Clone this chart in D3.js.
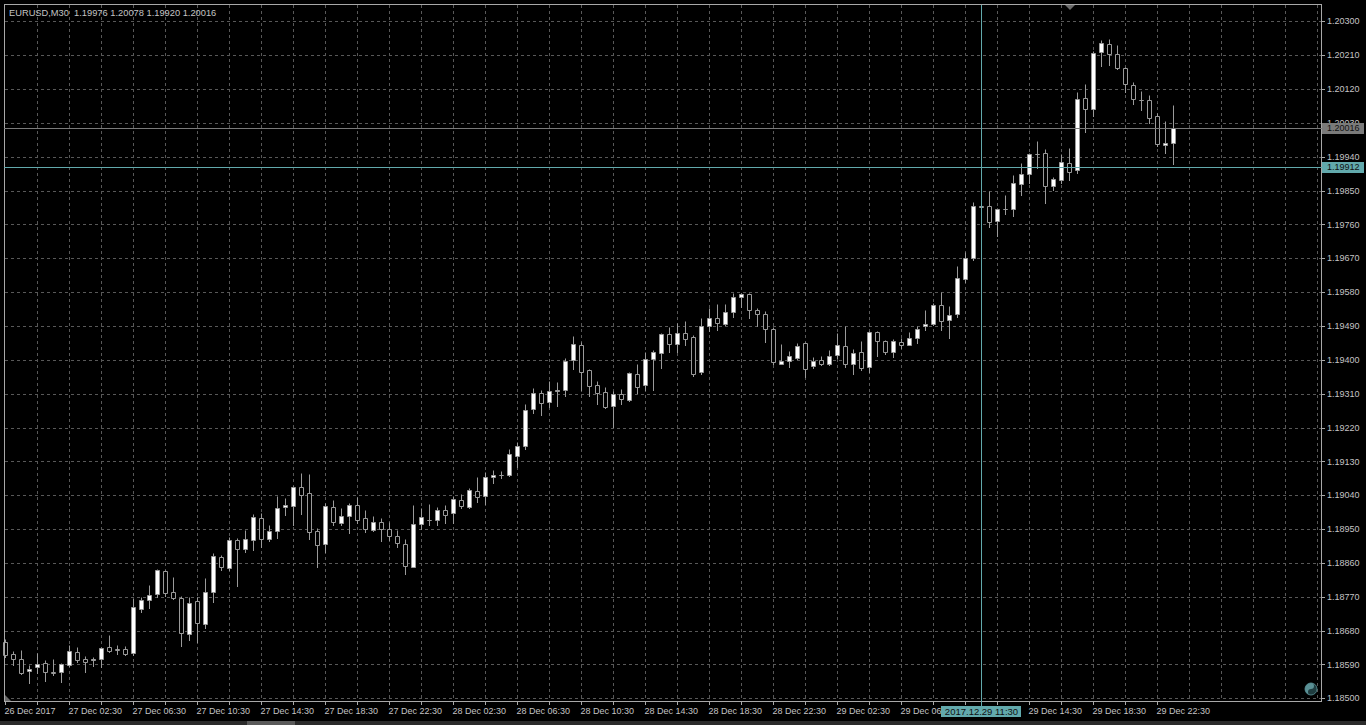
<!DOCTYPE html>
<html><head><meta charset="utf-8">
<script src="https://cdn.jsdelivr.net/npm/d3@7"></script>
<style>html,body{margin:0;padding:0;background:#000;overflow:hidden}svg{display:block}</style>
</head><body>
<svg id="c" width="1366" height="725"></svg>
<script>
const symbolLabel = "EURUSD,M30";
const titleValues = [1.19976, 1.20078, 1.19920, 1.20016];

const open = [1.18650,1.18617,1.18604,1.18572,1.18582,1.18593,1.18571,1.18569,1.18588,1.18622,
1.18604,1.18602,1.18604,1.18636,1.18630,1.18631,1.18620,1.18738,1.18761,1.18776,
1.18838,1.18782,1.18767,1.18670,1.18758,1.18697,1.18783,1.18876,1.18846,1.18921,
1.18898,1.18920,1.18979,1.18924,1.18944,1.19008,1.19010,1.19062,1.19045,1.18944,
1.18910,1.19008,1.18967,1.18985,1.19014,1.18979,1.18948,1.18969,1.18950,1.18931,
1.18911,1.18850,1.18963,1.18974,1.18975,1.19000,1.18992,1.19027,1.19009,1.19051,
1.19037,1.19088,1.19093,1.19094,1.19145,1.19172,1.19268,1.19311,1.19287,1.19318,
1.19319,1.19399,1.19439,1.19372,1.19334,1.19314,1.19278,1.19308,1.19293,1.19362,
1.19332,1.19403,1.19417,1.19469,1.19443,1.19470,1.19461,1.19367,1.19489,1.19510,
1.19496,1.19526,1.19566,1.19574,1.19532,1.19521,1.19483,1.19390,1.19396,1.19406,
1.19444,1.19384,1.19399,1.19390,1.19412,1.19436,1.19390,1.19422,1.19382,1.19474,
1.19451,1.19422,1.19447,1.19440,1.19457,1.19489,1.19496,1.19545,1.19507,1.19522,
1.19614,1.19670,1.19808,1.19808,1.19768,1.19801,1.19802,1.19867,1.19893,1.19947,
1.19949,1.19862,1.19877,1.19922,1.19905,1.20095,1.20066,1.20218,1.20239,1.20212,
1.20177,1.20131,1.20092,1.20090,1.20047,1.19972,1.19976];
const high = [1.18658,1.18627,1.18628,1.18589,1.18620,1.18602,1.18604,1.18593,1.18642,1.18636,
1.18612,1.18609,1.18636,1.18668,1.18641,1.18639,1.18766,1.18769,1.18801,1.18844,
1.18841,1.18823,1.18772,1.18770,1.18770,1.18819,1.18886,1.18881,1.18929,1.18926,
1.18947,1.18989,1.18992,1.18960,1.19038,1.19032,1.19064,1.19098,1.19096,1.18952,
1.19018,1.19027,1.19005,1.19018,1.19034,1.19001,1.18985,1.18979,1.18970,1.18947,
1.18923,1.19014,1.19005,1.19017,1.19009,1.19014,1.19039,1.19043,1.19058,1.19088,
1.19101,1.19107,1.19105,1.19163,1.19181,1.19282,1.19324,1.19320,1.19344,1.19342,
1.19404,1.19463,1.19448,1.19376,1.19344,1.19328,1.19316,1.19322,1.19368,1.19390,
1.19422,1.19425,1.19472,1.19488,1.19499,1.19503,1.19466,1.19512,1.19537,1.19548,
1.19548,1.19577,1.19577,1.19578,1.19537,1.19531,1.19486,1.19442,1.19424,1.19444,
1.19448,1.19407,1.19410,1.19426,1.19470,1.19491,1.19429,1.19450,1.19477,1.19477,
1.19453,1.19455,1.19457,1.19475,1.19491,1.19532,1.19550,1.19580,1.19543,1.19649,
1.19687,1.19820,1.19817,1.19849,1.19804,1.19838,1.19891,1.19924,1.19951,1.19982,
1.19960,1.19887,1.19947,1.19964,1.20113,1.20133,1.20222,1.20250,1.20253,1.20237,
1.20178,1.20138,1.20115,1.20104,1.20055,1.20035,1.20078];
const low = [1.18611,1.18589,1.18565,1.18541,1.18566,1.18547,1.18562,1.18544,1.18586,1.18597,
1.18571,1.18586,1.18584,1.18624,1.18618,1.18615,1.18616,1.18730,1.18741,1.18770,
1.18772,1.18765,1.18639,1.18655,1.18649,1.18686,1.18757,1.18841,1.18841,1.18799,
1.18890,1.18894,1.18903,1.18918,1.18926,1.18987,1.18961,1.18990,1.18924,1.18850,
1.18890,1.18961,1.18961,1.18940,1.18965,1.18943,1.18946,1.18918,1.18921,1.18903,
1.18830,1.18848,1.18950,1.18961,1.18961,1.18967,1.18966,1.19007,1.19005,1.19023,
1.19016,1.19073,1.19085,1.19091,1.19116,1.19162,1.19259,1.19253,1.19275,1.19277,
1.19305,1.19375,1.19320,1.19305,1.19282,1.19273,1.19222,1.19282,1.19290,1.19311,
1.19320,1.19320,1.19379,1.19420,1.19422,1.19439,1.19358,1.19363,1.19477,1.19479,
1.19492,1.19515,1.19540,1.19512,1.19491,1.19448,1.19390,1.19389,1.19380,1.19401,
1.19355,1.19377,1.19386,1.19386,1.19406,1.19380,1.19362,1.19373,1.19368,1.19410,
1.19415,1.19407,1.19431,1.19439,1.19444,1.19479,1.19493,1.19479,1.19457,1.19513,
1.19608,1.19665,1.19801,1.19754,1.19729,1.19787,1.19782,1.19838,1.19869,1.19909,
1.19818,1.19851,1.19869,1.19878,1.19896,1.20006,1.20048,1.20181,1.20185,1.20174,
1.20113,1.20080,1.20064,1.20030,1.19969,1.19951,1.19920];
const close = [1.18615,1.18605,1.18566,1.18577,1.18590,1.18569,1.18566,1.18590,1.18625,1.18603,
1.18597,1.18604,1.18633,1.18627,1.18628,1.18619,1.18742,1.18761,1.18774,1.18840,
1.18781,1.18767,1.18673,1.18753,1.18699,1.18782,1.18878,1.18848,1.18921,1.18897,
1.18923,1.18981,1.18923,1.18945,1.19005,1.19013,1.19062,1.19041,1.18943,1.18907,
1.19010,1.18969,1.18985,1.19014,1.18974,1.18951,1.18969,1.18951,1.18931,1.18912,
1.18852,1.18963,1.18983,1.18975,1.19000,1.18987,1.19029,1.19011,1.19053,1.19034,
1.19088,1.19093,1.19093,1.19149,1.19171,1.19266,1.19311,1.19286,1.19316,1.19319,
1.19397,1.19441,1.19368,1.19331,1.19313,1.19274,1.19310,1.19295,1.19364,1.19328,
1.19401,1.19420,1.19469,1.19441,1.19470,1.19456,1.19363,1.19489,1.19510,1.19497,
1.19526,1.19566,1.19574,1.19532,1.19521,1.19482,1.19394,1.19397,1.19411,1.19436,
1.19375,1.19397,1.19390,1.19409,1.19439,1.19390,1.19419,1.19377,1.19473,1.19451,
1.19422,1.19449,1.19439,1.19457,1.19483,1.19494,1.19545,1.19504,1.19518,1.19617,
1.19670,1.19808,1.19806,1.19767,1.19800,1.19802,1.19869,1.19893,1.19947,1.19947,
1.19863,1.19880,1.19925,1.19900,1.20093,1.20066,1.20215,1.20241,1.20212,1.20177,
1.20132,1.20094,1.20091,1.20044,1.19974,1.19977,1.20016];

// one label every 8 bars (4 hours), starting at the first bar
const timeLabels = ["26 Dec 2017","27 Dec 02:30","27 Dec 06:30","27 Dec 10:30","27 Dec 14:30",
"27 Dec 18:30","27 Dec 22:30","28 Dec 02:30","28 Dec 06:30","28 Dec 10:30","28 Dec 14:30",
"28 Dec 18:30","28 Dec 22:30","29 Dec 02:30","29 Dec 06:30","29 Dec 10:30","29 Dec 14:30",
"29 Dec 18:30","29 Dec 22:30"];
const priceTicks = [1.18500,1.18590,1.18680,1.18770,1.18860,1.18950,1.19040,1.19130,1.19220,
1.19310,1.19400,1.19490,1.19580,1.19670,1.19760,1.19850,1.19940,1.20030,1.20120,1.20210,1.20300];
const bidPrice = 1.20016;
const crossPrice = 1.19912;
const crossBar = 122;
const crossLabel = "2017.12.29 11:30";
const visibleBars = 165;

const W = 1366, H = 725;
const frame = {l: 4, t: 4, r: 1321, b: 701};
const svg = d3.select("#c");
const FONT = "'Liberation Sans', Arial, sans-serif";
const TXT = "#c4c4c4";
const GRID = "#585858";
const CAND = "#9a9a9a";
const TEAL = "#62a9ac";

const x = d3.scaleLinear().domain([0, visibleBars - 1]).range([5.5, 5.5 + 8 * (visibleBars - 1)]);
const y = d3.scaleLinear().domain([1.185, 1.203]).range([698.3, 21.3]);
const sy = v => Math.round(y(v)) + 0.5;

svg.append("rect").attr("width", W).attr("height", H).attr("fill", "#000");

// grid
const g = svg.append("g");
g.selectAll("line.h").data(priceTicks).join("line")
  .attr("x1", frame.l + 1).attr("x2", frame.r)
  .attr("y1", sy).attr("y2", sy)
  .attr("stroke", GRID).attr("stroke-dasharray", "3,3");
const vIdx = d3.range(4, visibleBars, 4);
g.selectAll("line.v").data(vIdx).join("line")
  .attr("x1", d => x(d)).attr("x2", d => x(d))
  .attr("y1", frame.t + 1).attr("y2", frame.b)
  .attr("stroke", GRID).attr("stroke-dasharray", "3,3");

// candles
const bars = open.map((o, i) => ({i, o, h: high[i], l: low[i], c: close[i]}));
const cg = svg.append("g");
cg.selectAll("line.w").data(bars).join("line")
  .attr("x1", d => x(d.i)).attr("x2", d => x(d.i))
  .attr("y1", d => sy(d.h)).attr("y2", d => sy(d.l) + 0.5)
  .attr("stroke", CAND);
cg.selectAll("path.b").data(bars).join("path")
  .attr("d", d => {
    const top = sy(Math.max(d.o, d.c)), bot = sy(Math.min(d.o, d.c));
    const x0 = x(d.i) - 2;
    return `M${x0},${top}H${x0 + 4}V${bot}H${x0}Z`;
  })
  .attr("fill", d => d.c >= d.o ? "#ffffff" : "#000000")
  .attr("stroke", CAND);

// frame
svg.append("rect").attr("x", frame.l + 0.5).attr("y", frame.t + 0.5)
  .attr("width", frame.r - frame.l).attr("height", frame.b - frame.t)
  .attr("fill", "none").attr("stroke", "#a8a8a8");

// price axis
const pa = svg.append("g");
pa.selectAll("line").data(priceTicks).join("line")
  .attr("x1", frame.r + 1).attr("x2", frame.r + 4).attr("y1", sy).attr("y2", sy)
  .attr("stroke", "#a8a8a8");
pa.selectAll("text").data(priceTicks).join("text")
  .attr("x", 1327).attr("y", d => y(d)).attr("dy", "0.35em")
  .attr("fill", TXT).attr("font-family", FONT).attr("font-size", 9)
  .text(d3.format(".5f"));

// time axis
const ta = svg.append("g");
const tickIdx = d3.range(0, open.length, 4);
ta.selectAll("line").data(tickIdx).join("line")
  .attr("x1", d => x(d)).attr("x2", d => x(d)).attr("y1", frame.b + 1).attr("y2", frame.b + 4)
  .attr("stroke", "#a8a8a8");
ta.selectAll("text").data(timeLabels).join("text")
  .attr("x", (d, k) => x(k * 8) - 1).attr("y", 714)
  .attr("fill", TXT).attr("font-family", FONT).attr("font-size", 9)
  .text(d => d);

// bid line
svg.append("line").attr("x1", frame.l).attr("x2", frame.r + 1)
  .attr("y1", sy(bidPrice)).attr("y2", sy(bidPrice)).attr("stroke", "#7a7a7a");
svg.append("rect").attr("x", frame.r + 1).attr("y", sy(bidPrice) - 5.5).attr("width", 42).attr("height", 11)
  .attr("fill", "#7a7a7a");
svg.append("text").attr("x", 1327).attr("y", y(bidPrice)).attr("dy", "0.35em")
  .attr("fill", "#101010").attr("font-family", FONT).attr("font-size", 9)
  .text(d3.format(".5f")(bidPrice));

// crosshair
const cx = x(crossBar);
svg.append("line").attr("x1", cx).attr("x2", cx).attr("y1", frame.t + 1).attr("y2", frame.b + 5)
  .attr("stroke", TEAL);
svg.append("line").attr("x1", frame.l).attr("x2", frame.r + 1)
  .attr("y1", sy(crossPrice)).attr("y2", sy(crossPrice)).attr("stroke", TEAL);
svg.append("rect").attr("x", frame.r + 1).attr("y", sy(crossPrice) - 5.5).attr("width", 42).attr("height", 11)
  .attr("fill", TEAL);
svg.append("text").attr("x", 1327).attr("y", y(crossPrice)).attr("dy", "0.35em")
  .attr("fill", "#101010").attr("font-family", FONT).attr("font-size", 9)
  .text(d3.format(".5f")(crossPrice));
svg.append("rect").attr("x", cx - 40.5).attr("y", 706).attr("width", 80).attr("height", 11)
  .attr("fill", TEAL);
svg.append("text").attr("x", cx).attr("y", 714.5).attr("text-anchor", "middle")
  .attr("fill", "#101010").attr("font-family", FONT).attr("font-size", 9.5)
  .text(crossLabel);

// markers
svg.append("path").attr("d", "M1065,5L1075,5L1070,10Z").attr("fill", "#6a6a6a");
svg.append("path").attr("d", "M5,695L5,701L11,701Z").attr("fill", "#6a6a6a");
// small icon
const ic = svg.append("g").attr("transform", "translate(1311,689)");
ic.append("circle").attr("r", 6).attr("fill", "#1f3d40").attr("stroke", "#4d7f84");
ic.append("path").attr("d", "M0,-6A3,3 0 0,1 0,0A3,3 0 0,0 0,6A6,6 0 0,1 0,-6Z").attr("fill", "#5a9095");

// bottom strip
svg.append("rect").attr("x", 0).attr("y", 721).attr("width", W).attr("height", 4).attr("fill", "#2b2b2b");
svg.append("rect").attr("x", 247).attr("y", 721).attr("width", 48).attr("height", 4).attr("fill", "#5a5a5a");

// title
svg.append("text").attr("x", 9).attr("y", 16)
  .attr("fill", TXT).attr("font-family", FONT).attr("font-size", 9.3)
  .style("white-space", "pre")
  .text(symbolLabel + "  " + titleValues.map(d3.format(".5f")).join(" "));
</script>
</body></html>
